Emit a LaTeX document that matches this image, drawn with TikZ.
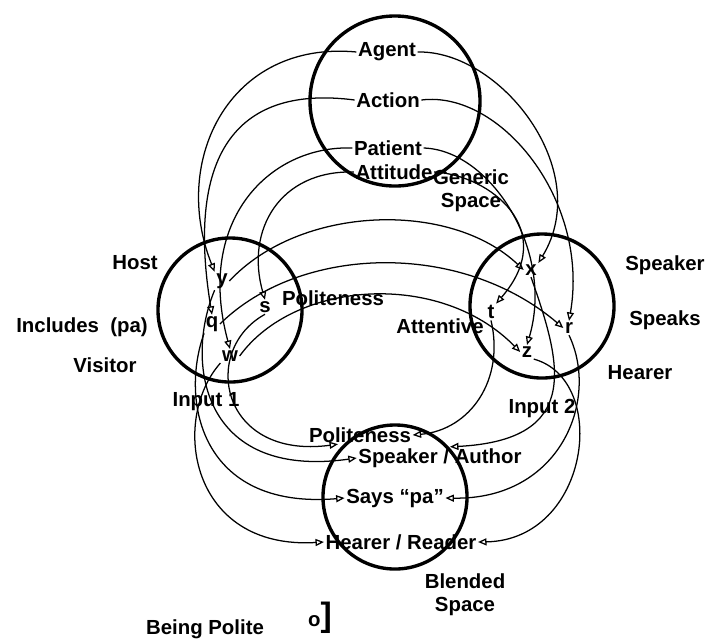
\documentclass[tikz,border=0pt]{standalone}
\usepackage{fontspec}
\setmainfont{Liberation Sans}
\usepackage{tikz}
\usetikzlibrary{arrows.meta}
\newcommand{\lbl}{\fontsize{14.5}{16.3}\selectfont\bfseries}

\begin{document}
\begin{tikzpicture}[x=0.025cm,y=-0.025cm,>={Triangle[open,length=6pt,width=5pt]},
 every node/.style={font=\lbl,inner sep=1pt},
 space/.style={draw,circle,line width=2.4pt,inner sep=0pt},
 map/.style={->,line width=0.9pt}]
\useasboundingbox (0,0) rectangle (708,641);
% the four spaces
\node[space,minimum size=4.25cm] (gen) at (395,101) {};
\node[space,minimum size=3.6cm] (inA) at (230,310) {};
\node[space,minimum size=3.6cm] (inB) at (542,306) {};
\node[space,minimum size=3.6cm] (blend) at (395,497) {};
% generic space
\node (agent) at (387,52) {Agent};
\node (action) at (388,100) {Action};
\node (patient) at (388,148) {Patient};
\node (attitude) at (394,172) {Attitude};
\node[align=center] (genlab) at (471,191) {Generic\\Space};
% input 1
\node (host) at (135,263) {Host};
\node (incl) at (82,327) {Includes\ \ (pa)};
\node (visitor) at (105,365) {Visitor};
\node (inlabA) at (206,402) {Input 1};
\node (y) at (222,281) {y};
\node (q) at (212,324) {q};
\node (w) at (230,356) {w};
\node (s) at (265,307) {s};
\node (polA) at (333,298) {Politeness};
% input 2
\node (x) at (531,270) {x};
\node (t) at (491,312) {t};
\node (r) at (569,328) {r};
\node (z) at (527,352) {z};
\node (attentive) at (440,326) {Attentive};
\node (speaker) at (665,265) {Speaker};
\node (speaks) at (665,320) {Speaks};
\node (hearer) at (640,373) {Hearer};
\node (inlabB) at (542,408) {Input 2};
% blended space
\node (polB) at (360,435) {Politeness};
\node (spk) at (440,458) {Speaker / Author};
\node (says) at (395,498) {Says “pa”};
\node (hear) at (401,542) {Hearer / Reader};
\node[align=center] (blendlab) at (465,595) {Blended\\Space};
\node (being) at (205,629) {Being Polite};
\node[anchor=base] (glyph) at (320,626) {o{\fontsize{24}{24}\selectfont]}};
% generic to inputs
\draw[map] (agent.west) .. controls (230,40) and (170,160) .. (y.north west);
\draw[map] (action.west) .. controls (240,85) and (185,150) .. (q.north);
\draw[map] (patient.west) .. controls (270,145) and (195,220) .. (w.north);
\draw[map] (attitude.west) .. controls (280,170) and (245,230) .. (s.north);
\draw[map] (agent.east) .. controls (500,50) and (595,170) .. (x.north east);
\draw[map] (action.east) .. controls (500,90) and (590,200) .. (r.north);
\draw[map] (patient.east) .. controls (490,150) and (555,250) .. (z.north);
\draw[map] (attitude.east) .. controls (490,175) and (560,230) .. (t.north east);
% input 1 to input 2
\draw[map] (y.east) .. controls (300,205) and (450,200) .. (x.west);
\draw[map] (q.east) .. controls (300,245) and (460,240) .. (r.west);
\draw[map] (w.east) .. controls (295,280) and (440,270) .. (z.west);
% inputs to blend
\draw[map] (s.south) .. controls (200,350) and (220,460) .. ([xshift=-0.55cm]polB.south);
\draw[map] (y.south west) .. controls (185,360) and (200,480) .. (spk.west);
\draw[map] (q.south west) .. controls (180,400) and (200,510) .. (says.west);
\draw[map] (w.south west) .. controls (170,420) and (190,550) .. (hear.west);
\draw[map] (t.south) .. controls (505,380) and (470,430) .. (polB.east);
\draw[map] (x.south) .. controls (560,360) and (585,440) .. ([xshift=0.25cm]spk.north);
\draw[map] (r.south) .. controls (600,400) and (560,500) .. (says.east);
\draw[map] (z.south east) .. controls (610,380) and (590,540) .. (hear.east);
\end{tikzpicture}
\end{document}
